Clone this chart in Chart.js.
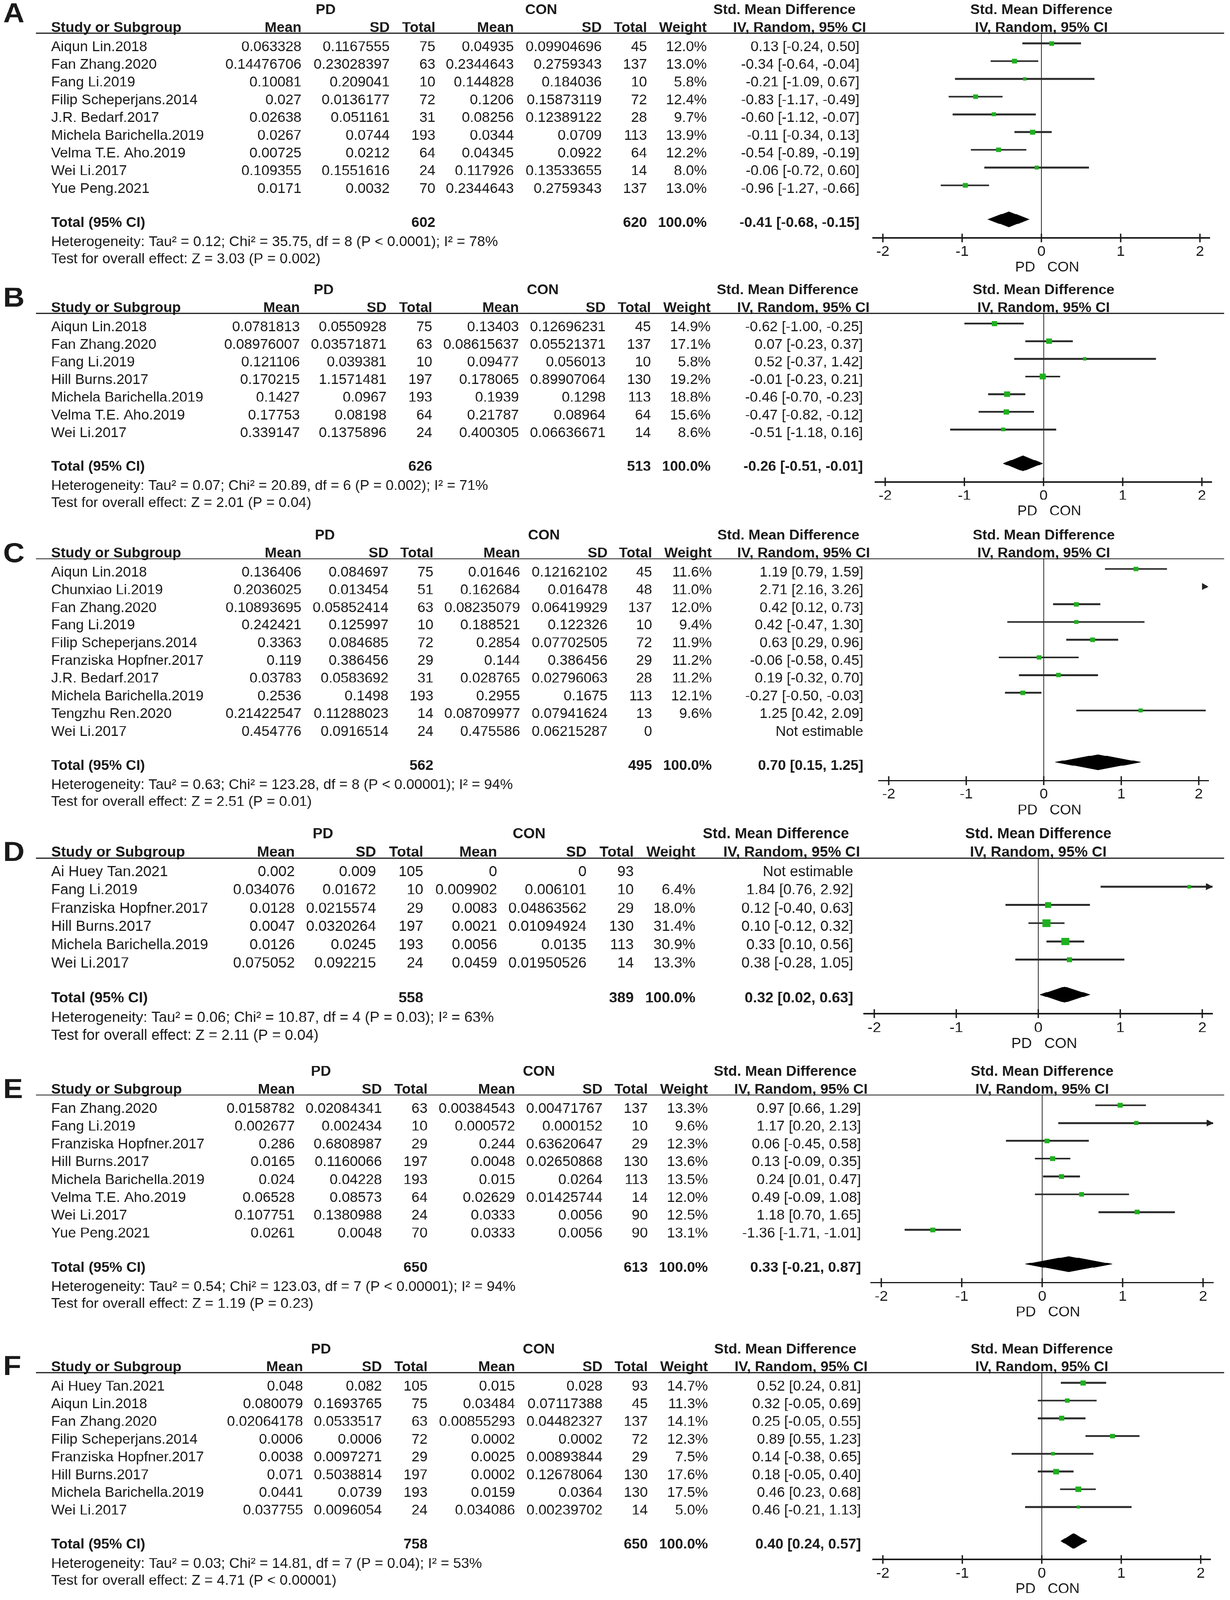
<!DOCTYPE html>
<html lang="en">
<head>
    <meta charset="UTF-8">
    <title>forest plots</title>
    <script src="https://cdn.jsdelivr.net/npm/chart.js@4.4.1/dist/chart.umd.min.js"></script>
    <style>
        html, body {margin: 0; padding: 0; background: #fff; overflow: hidden;}
        #wrap {position: relative; width: 3150px; height: 4421px; background: #fff; overflow: hidden;}
        #wrap canvas {position: absolute; left: 0;}
    </style>
</head>
<body>
    <div id="wrap"></div>

    <script>
        // ---- data, one entry per panel A..F ----
        const panelLabels = ['A', 'B', 'C', 'D', 'E', 'F'];

        const studies = [
            ['Aiqun Lin.2018', 'Fan Zhang.2020', 'Fang Li.2019', 'Filip Scheperjans.2014', 'J.R. Bedarf.2017', 'Michela Barichella.2019', 'Velma T.E. Aho.2019', 'Wei Li.2017', 'Yue Peng.2021'],
            ['Aiqun Lin.2018', 'Fan Zhang.2020', 'Fang Li.2019', 'Hill Burns.2017', 'Michela Barichella.2019', 'Velma T.E. Aho.2019', 'Wei Li.2017'],
            ['Aiqun Lin.2018', 'Chunxiao Li.2019', 'Fan Zhang.2020', 'Fang Li.2019', 'Filip Scheperjans.2014', 'Franziska Hopfner.2017', 'J.R. Bedarf.2017', 'Michela Barichella.2019', 'Tengzhu Ren.2020', 'Wei Li.2017'],
            ['Ai Huey Tan.2021', 'Fang Li.2019', 'Franziska Hopfner.2017', 'Hill Burns.2017', 'Michela Barichella.2019', 'Wei Li.2017'],
            ['Fan Zhang.2020', 'Fang Li.2019', 'Franziska Hopfner.2017', 'Hill Burns.2017', 'Michela Barichella.2019', 'Velma T.E. Aho.2019', 'Wei Li.2017', 'Yue Peng.2021'],
            ['Ai Huey Tan.2021', 'Aiqun Lin.2018', 'Fan Zhang.2020', 'Filip Scheperjans.2014', 'Franziska Hopfner.2017', 'Hill Burns.2017', 'Michela Barichella.2019', 'Wei Li.2017']
        ];

        const pdMean = [
            [0.063328, 0.14476706, 0.10081, 0.027, 0.02638, 0.0267, 0.00725, 0.109355, 0.0171],
            [0.0781813, 0.08976007, 0.121106, 0.170215, 0.1427, 0.17753, 0.339147],
            [0.136406, 0.2036025, 0.10893695, 0.242421, 0.3363, 0.119, 0.03783, 0.2536, 0.21422547, 0.454776],
            [0.002, 0.034076, 0.0128, 0.0047, 0.0126, 0.075052],
            [0.0158782, 0.002677, 0.286, 0.0165, 0.024, 0.06528, 0.107751, 0.0261],
            [0.048, 0.080079, 0.02064178, 0.0006, 0.0038, 0.071, 0.0441, 0.037755]
        ];
        const pdSd = [
            [0.1167555, 0.23028397, 0.209041, 0.0136177, 0.051161, 0.0744, 0.0212, 0.1551616, 0.0032],
            [0.0550928, 0.03571871, 0.039381, 1.1571481, 0.0967, 0.08198, 0.1375896],
            [0.084697, 0.013454, 0.05852414, 0.125997, 0.084685, 0.386456, 0.0583692, 0.1498, 0.11288023, 0.0916514],
            [0.009, 0.01672, 0.0215574, 0.0320264, 0.0245, 0.092215],
            [0.02084341, 0.002434, 0.6808987, 0.1160066, 0.04228, 0.08573, 0.1380988, 0.0048],
            [0.082, 0.1693765, 0.0533517, 0.0006, 0.0097271, 0.5038814, 0.0739, 0.0096054]
        ];
        const pdTotal = [
            [75, 63, 10, 72, 31, 193, 64, 24, 70],
            [75, 63, 10, 197, 193, 64, 24],
            [75, 51, 63, 10, 72, 29, 31, 193, 14, 24],
            [105, 10, 29, 197, 193, 24],
            [63, 10, 29, 197, 193, 64, 24, 70],
            [105, 75, 63, 72, 29, 197, 193, 24]
        ];
        const conMean = [
            [0.04935, 0.2344643, 0.144828, 0.1206, 0.08256, 0.0344, 0.04345, 0.117926, 0.2344643],
            [0.13403, 0.08615637, 0.09477, 0.178065, 0.1939, 0.21787, 0.400305],
            [0.01646, 0.162684, 0.08235079, 0.188521, 0.2854, 0.144, 0.028765, 0.2955, 0.08709977, 0.475586],
            [0, 0.009902, 0.0083, 0.0021, 0.0056, 0.0459],
            [0.00384543, 0.000572, 0.244, 0.0048, 0.015, 0.02629, 0.0333, 0.0333],
            [0.015, 0.03484, 0.00855293, 0.0002, 0.0025, 0.0002, 0.0159, 0.034086]
        ];
        const conSd = [
            [0.09904696, 0.2759343, 0.184036, 0.15873119, 0.12389122, 0.0709, 0.0922, 0.13533655, 0.2759343],
            [0.12696231, 0.05521371, 0.056013, 0.89907064, 0.1298, 0.08964, 0.06636671],
            [0.12162102, 0.016478, 0.06419929, 0.122326, 0.07702505, 0.386456, 0.02796063, 0.1675, 0.07941624, 0.06215287],
            [0, 0.006101, 0.04863562, 0.01094924, 0.0135, 0.01950526],
            [0.00471767, 0.000152, 0.63620647, 0.02650868, 0.0264, 0.01425744, 0.0056, 0.0056],
            [0.028, 0.07117388, 0.04482327, 0.0002, 0.00893844, 0.12678064, 0.0364, 0.00239702]
        ];
        const conTotal = [
            [45, 137, 10, 72, 28, 113, 64, 14, 137],
            [45, 137, 10, 130, 113, 64, 14],
            [45, 48, 137, 10, 72, 29, 28, 113, 13, 0],
            [93, 10, 29, 130, 113, 14],
            [137, 10, 29, 130, 113, 14, 90, 90],
            [93, 45, 137, 72, 29, 130, 130, 14]
        ];
        const weight = [
            [12.0, 13.0, 5.8, 12.4, 9.7, 13.9, 12.2, 8.0, 13.0],
            [14.9, 17.1, 5.8, 19.2, 18.8, 15.6, 8.6],
            [11.6, 11.0, 12.0, 9.4, 11.9, 11.2, 11.2, 12.1, 9.6, null],
            [null, 6.4, 18.0, 31.4, 30.9, 13.3],
            [13.3, 9.6, 12.3, 13.6, 13.5, 12.0, 12.5, 13.1],
            [14.7, 11.3, 14.1, 12.3, 7.5, 17.6, 17.5, 5.0]
        ];
        const smd = [
            [0.13, -0.34, -0.21, -0.83, -0.60, -0.11, -0.54, -0.06, -0.96],
            [-0.62, 0.07, 0.52, -0.01, -0.46, -0.47, -0.51],
            [1.19, 2.71, 0.42, 0.42, 0.63, -0.06, 0.19, -0.27, 1.25, null],
            [null, 1.84, 0.12, 0.10, 0.33, 0.38],
            [0.97, 1.17, 0.06, 0.13, 0.24, 0.49, 1.18, -1.36],
            [0.52, 0.32, 0.25, 0.89, 0.14, 0.18, 0.46, 0.46]
        ];
        const ciLow = [
            [-0.24, -0.64, -1.09, -1.17, -1.12, -0.34, -0.89, -0.72, -1.27],
            [-1.00, -0.23, -0.37, -0.23, -0.70, -0.82, -1.18],
            [0.79, 2.16, 0.12, -0.47, 0.29, -0.58, -0.32, -0.50, 0.42, null],
            [null, 0.76, -0.40, -0.12, 0.10, -0.28],
            [0.66, 0.20, -0.45, -0.09, 0.01, -0.09, 0.70, -1.71],
            [0.24, -0.05, -0.05, 0.55, -0.38, -0.05, 0.23, -0.21]
        ];
        const ciHigh = [
            [0.50, -0.04, 0.67, -0.49, -0.07, 0.13, -0.19, 0.60, -0.66],
            [-0.25, 0.37, 1.42, 0.21, -0.23, -0.12, 0.16],
            [1.59, 3.26, 0.73, 1.30, 0.96, 0.45, 0.70, -0.03, 2.09, null],
            [null, 2.92, 0.63, 0.32, 0.56, 1.05],
            [1.29, 2.13, 0.58, 0.35, 0.47, 1.08, 1.65, -1.01],
            [0.81, 0.69, 0.55, 1.23, 0.65, 0.40, 0.68, 1.13]
        ];

        const totalPd = [602, 626, 562, 558, 650, 758];
        const totalCon = [620, 513, 495, 389, 613, 650];
        const poolSmd = [-0.41, -0.26, 0.70, 0.32, 0.33, 0.40];
        const poolLow = [-0.68, -0.51, 0.15, 0.02, -0.21, 0.24];
        const poolHigh = [-0.15, -0.01, 1.25, 0.63, 0.87, 0.57];

        const heterogeneity = [
            'Heterogeneity: Tau² = 0.12; Chi² = 35.75, df = 8 (P < 0.0001); I² = 78%',
            'Heterogeneity: Tau² = 0.07; Chi² = 20.89, df = 6 (P = 0.002); I² = 71%',
            'Heterogeneity: Tau² = 0.63; Chi² = 123.28, df = 8 (P < 0.00001); I² = 94%',
            'Heterogeneity: Tau² = 0.06; Chi² = 10.87, df = 4 (P = 0.03); I² = 63%',
            'Heterogeneity: Tau² = 0.54; Chi² = 123.03, df = 7 (P < 0.00001); I² = 94%',
            'Heterogeneity: Tau² = 0.03; Chi² = 14.81, df = 7 (P = 0.04); I² = 53%'
        ];
        const overallEffect = [
            'Test for overall effect: Z = 3.03 (P = 0.002)',
            'Test for overall effect: Z = 2.01 (P = 0.04)',
            'Test for overall effect: Z = 2.51 (P = 0.01)',
            'Test for overall effect: Z = 2.11 (P = 0.04)',
            'Test for overall effect: Z = 1.19 (P = 0.23)',
            'Test for overall effect: Z = 4.71 (P < 0.00001)'
        ];

        const xTicks = [-2, -1, 0, 1, 2];

        // ---- layout (pixels) ----
        const PAGE_W = 3150, PAGE_H = 4421;
        const panelTop = [0, 774, 1452, 2280, 2934, 3701];
        const panelScale = [1.0, 0.996, 0.998, 1.028, 1.004, 1.0];
        const letterDy = [-89, -78, -50, -52, -51, -53];
        // right edges: PD mean, PD sd, PD total, CON mean, CON sd, CON total, weight, CI
        const colRight = [
            [772, 998, 1115, 1316, 1541, 1657, 1810, 2201],
            [768, 990, 1107, 1329, 1551, 1667, 1820, 2210],
            [772, 995, 1110, 1332, 1556, 1670, 1823, 2211],
            [755, 963, 1084, 1273, 1502, 1623, 1781, 2185],
            [755, 978, 1095, 1319, 1543, 1659, 1813, 2205],
            [776, 978, 1095, 1319, 1543, 1659, 1813, 2205]
        ];
        // centres: PD, CON, Std. Mean Difference
        const headCenter = [
            [834, 1386, 2009], [829, 1390, 2017], [832, 1393, 2019],
            [827, 1355, 1987], [822, 1380, 2011], [822, 1380, 2011]
        ];
        // pixel of x = -2 and x = +2
        const axisEnds = [
            [2261, 3073], [2267, 3078], [2276, 3070], [2239, 3079], [2257, 3081], [2261, 3075]
        ];

        const ROW1 = 130;          // local y of first study row text
        const TEXT_SHIFT = 10 / 49; // text sits a little lower than marks
        const STUDY_X = 131;
        const X_MAX = 2.125;
        const INK = '#1a1a1a';
        const GREEN = '#1fb01f';
        const FONT = '"Liberation Sans", Arial, sans-serif';
        const SQUEEZE = 0.945;      // the source type is a little condensed

        const f2 = v => v.toFixed(2);
        const ciText = (e, l, h) => f2(e) + ' [' + f2(l) + ', ' + f2(h) + ']';

        const tablePlugin = {
            id: 'table',
            afterDraw(chart, args, opts) {
                const p = opts.panel;
                const ctx = chart.ctx;
                const x = chart.scales.x, y = chart.scales.y;
                const s = panelScale[p];
                const n = studies[p].length;
                const fs = 39 * s;
                const col = colRight[p];
                const head = headCenter[p];
                const rowPx = r => y.getPixelForValue(1 + r + TEXT_SHIFT);
                const zero = x.getPixelForValue(0);

                ctx.save();
                ctx.fillStyle = INK;
                ctx.textBaseline = 'middle';
                function put(t, px, py, align, bold, size, squeeze) {
                    const k = squeeze || SQUEEZE;
                    ctx.save();
                    ctx.font = (bold ? 'bold ' : '') + (size || fs) + 'px ' + FONT;
                    ctx.textAlign = align;
                    ctx.translate(px, py);
                    ctx.scale(k, 1);
                    ctx.fillText(t, 0, 0);
                    ctx.restore();
                }

                put(panelLabels[p], 8, ROW1 + letterDy[p], 'left', true, 76, 1);

                const h1 = rowPx(-2.08), h2 = rowPx(-1.08);
                put('PD', head[0], h1, 'center', true);
                put('CON', head[1], h1, 'center', true);
                put('Std. Mean Difference', head[2], h1, 'center', true);
                put('Std. Mean Difference', zero, h1, 'center', true);

                put('Study or Subgroup', STUDY_X, h2, 'left', true);
                ['Mean', 'SD', 'Total', 'Mean', 'SD', 'Total', 'Weight'].forEach((t, k) => {
                    put(t, col[k], h2, 'right', true);
                });
                put('IV, Random, 95% CI', col[7] + 17 * s, h2, 'right', true);
                put('IV, Random, 95% CI', zero, h2, 'center', true);

                ctx.strokeStyle = INK;
                ctx.lineWidth = 3;
                ctx.beginPath();
                ctx.moveTo(92, chart.chartArea.top);
                ctx.lineTo(3135, chart.chartArea.top);
                ctx.stroke();

                for (let i = 0; i < n; i++) {
                    const py = rowPx(i);
                    put(studies[p][i], STUDY_X, py, 'left', false);
                    put(String(pdMean[p][i]), col[0], py, 'right', false);
                    put(String(pdSd[p][i]), col[1], py, 'right', false);
                    put(String(pdTotal[p][i]), col[2], py, 'right', false);
                    put(String(conMean[p][i]), col[3], py, 'right', false);
                    put(String(conSd[p][i]), col[4], py, 'right', false);
                    put(String(conTotal[p][i]), col[5], py, 'right', false);
                    if (weight[p][i] != null) put(weight[p][i].toFixed(1) + '%', col[6], py, 'right', false);
                    if (smd[p][i] != null) {
                        put(ciText(smd[p][i], ciLow[p][i], ciHigh[p][i]), col[7], py, 'right', false);
                    } else {
                        put('Not estimable', col[7], py, 'right', false);
                    }
                }

                const ty = rowPx(n + 0.92);
                put('Total (95% CI)', STUDY_X, ty, 'left', true);
                put(String(totalPd[p]), col[2], ty, 'right', true);
                put(String(totalCon[p]), col[5], ty, 'right', true);
                put('100.0%', col[6], ty, 'right', true);
                put(ciText(poolSmd[p], poolLow[p], poolHigh[p]), col[7], ty, 'right', true);

                put(heterogeneity[p], STUDY_X, rowPx(n + 2.0), 'left', false);
                put(overallEffect[p], STUDY_X, rowPx(n + 2.97), 'left', false);

                const by = chart.chartArea.bottom + 82 * s;
                put('PD', zero - 16 * s, by, 'right', false);
                put('CON', zero + 15 * s, by, 'left', false);
                ctx.restore();
            }
        };

        function makeChart(p) {
            const n = studies[p].length;
            const s = panelScale[p];
            const pitch = 49 * s;
            const H = (p < 5 ? panelTop[p + 1] : PAGE_H) - panelTop[p];
            const [axL, axR] = axisEnds[p];
            const unit = (axR - axL) / 4;
            const left = axL - 0.125 * unit, right = axR + 0.125 * unit;
            const top = ROW1 - 38 * s;
            const axisY = ROW1 + (n + 1.76) * pitch;
            const yMin = 1 - 28 / 49, yMax = n + 2.76 + TEXT_SHIFT;

            const squares = [], sizes = [], ci = [], arrows = [];
            for (let i = 0; i < n; i++) {
                if (smd[p][i] == null) continue;
                squares.push({x: smd[p][i], y: i + 1});
                sizes.push(3.6 * Math.sqrt(weight[p][i]) * s / Math.SQRT2);
                ci.push({x: ciLow[p][i], y: i + 1}, {x: ciHigh[p][i], y: i + 1}, {x: ciLow[p][i], y: null});
                if (ciHigh[p][i] > X_MAX) arrows.push({x: X_MAX - 11 * s / unit, y: i + 1});
            }
            const d = n + 1.92, hh = 0.43;
            const diamond = [
                {x: poolLow[p], y: d}, {x: poolSmd[p], y: d - hh}, {x: poolHigh[p], y: d},
                {x: poolSmd[p], y: d + hh}, {x: poolLow[p], y: d}
            ];

            const cv = document.createElement('canvas');
            cv.width = PAGE_W;
            cv.height = H;
            cv.style.top = panelTop[p] + 'px';
            cv.style.width = PAGE_W + 'px';
            cv.style.height = H + 'px';
            document.getElementById('wrap').appendChild(cv);

            return new Chart(cv.getContext('2d'), {
                type: 'scatter',
                data: {
                    datasets: [
                        {
                            data: squares, pointStyle: 'rect', pointRadius: sizes,
                            pointBackgroundColor: GREEN, pointBorderWidth: 0
                        },
                        {
                            data: arrows, pointStyle: 'triangle', pointRotation: 90, pointRadius: 11 * s,
                            pointBackgroundColor: '#222', pointBorderWidth: 0, clip: false
                        },
                        {
                            type: 'line', data: ci, borderColor: '#2a2a2a', borderWidth: 5,
                            pointRadius: 0, tension: 0, spanGaps: false, fill: false
                        },
                        {
                            type: 'line', data: diamond, borderColor: '#000', borderWidth: 1,
                            backgroundColor: '#000', pointRadius: 0, tension: 0, fill: 'shape'
                        },
                        {
                            data: xTicks.map(v => ({x: v, y: yMax})), pointStyle: 'line', pointRotation: 90,
                            pointRadius: 12 * s, pointBorderColor: INK, pointBorderWidth: 3.5, clip: false
                        }
                    ]
                },
                options: {
                    responsive: false,
                    animation: false,
                    devicePixelRatio: 1,
                    events: [],
                    layout: {
                        padding: {left: left, right: PAGE_W - right, top: top, bottom: H - axisY - 100}
                    },
                    plugins: {
                        legend: {display: false},
                        tooltip: {enabled: false},
                        table: {panel: p}
                    },
                    scales: {
                        x: {
                            type: 'linear',
                            position: 'bottom',
                            min: -X_MAX,
                            max: X_MAX,
                            afterBuildTicks: sc => { sc.ticks = xTicks.map(v => ({value: v})); },
                            afterFit: sc => { sc.height = 100; },
                            grid: {
                                drawTicks: false,
                                color: c => (c.tick && c.tick.value === 0) ? '#2a2a2a' : 'rgba(0,0,0,0)',
                                lineWidth: 2
                            },
                            border: {display: true, color: INK, width: 4},
                            ticks: {
                                padding: 16 * s,
                                color: INK,
                                font: {family: FONT, size: 38 * s},
                                callback: v => String(v)
                            }
                        },
                        y: {
                            type: 'linear',
                            display: false,
                            reverse: true,
                            min: yMin,
                            max: yMax
                        }
                    }
                },
                plugins: [tablePlugin]
            });
        }

        panelLabels.forEach((lab, p) => makeChart(p));

        // the visible viewport can be shorter than the page; fit the whole figure into it
        const fitY = Math.min(1, window.innerHeight / PAGE_H);
        if (fitY < 1) {
            const wrap = document.getElementById('wrap');
            wrap.style.transformOrigin = '0 0';
            wrap.style.transform = 'scale(1, ' + fitY + ')';
        }
    </script>
</body>
</html>
